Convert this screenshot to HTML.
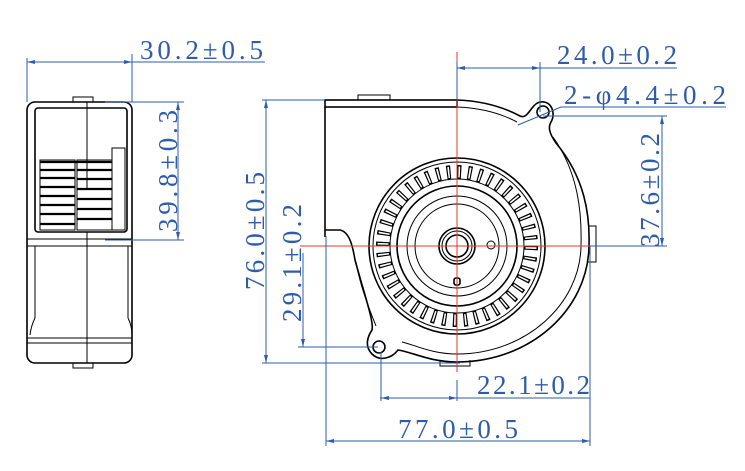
<!DOCTYPE html>
<html><head><meta charset="utf-8"><style>
html,body{margin:0;padding:0;background:#fff;}
svg{display:block;}
.b{stroke:#000;fill:none;stroke-width:1.6;}
.t{stroke:#000;fill:none;stroke-width:1;}
.d{stroke:#2e5caa;fill:none;stroke-width:1;}
.r{stroke:#f03030;fill:none;stroke-width:1;}
text{font-family:"Liberation Serif","Noto Serif CJK SC",serif;font-size:27px;fill:#2e5caa;}
</style></head><body>
<svg width="745" height="471" viewBox="0 0 745 471" xmlns="http://www.w3.org/2000/svg">
<!-- LEFT VIEW -->
<rect class="b" x="27" y="102" width="105" height="261" rx="8"/>
<rect class="b" x="35" y="108" width="92" height="124" rx="3"/>
<path class="t" d="M73 102 V97 H93 V102 M73 363 V368 H93 V363"/>
<path class="t" d="M87 102 V109 M87 108 V190 M87 232 V363"/>
<path class="t" d="M27 239 H132 M27 246 H132 M35 246 V318 M128 246 V318 M35 318 Q31 326 30 335 M128 318 Q132 326 132 335 M27 338 H132 M27 343 H132"/>
<rect class="t" x="112" y="148" width="13" height="82"/>
<rect class="t" x="40" y="160" width="35" height="70"/>
<rect class="t" x="77" y="160" width="35" height="70"/>
<g stroke="#000" stroke-width="2.2">
<line x1="40" y1="162" x2="112" y2="162"/><line x1="40" y1="170" x2="75" y2="170"/><line x1="40" y1="178" x2="75" y2="178"/><line x1="40" y1="187" x2="75" y2="187"/><line x1="40" y1="196" x2="75" y2="196"/><line x1="40" y1="205" x2="75" y2="205"/><line x1="40" y1="214" x2="75" y2="214"/><line x1="40" y1="224" x2="75" y2="224"/>
<line x1="77" y1="170" x2="112" y2="170"/><line x1="77" y1="179" x2="112" y2="179"/><line x1="77" y1="189" x2="112" y2="189"/><line x1="77" y1="199" x2="112" y2="199"/><line x1="77" y1="209" x2="112" y2="209"/><line x1="77" y1="219" x2="112" y2="219"/>
</g>
<!-- left dims -->
<path class="d" d="M27 58 V102 M132 54 V102 M27 62 H265 M105 102 H184 M105 240 H184 M178 102 V240"/>
<path d="M27 62 l8 -2 v4 z M132 62 l-8 -2 v4 z M178 102 l-2 8 h4 z M178 240 l-2 -8 h4 z" fill="#2e5caa"/>
<text x="140" y="59" textLength="123" lengthAdjust="spacing">30.2±0.5</text>
<text transform="translate(177,171) rotate(-90)" text-anchor="middle" textLength="122" lengthAdjust="spacing">39.8±0.3</text>

<!-- MAIN VIEW -->
<path class="t" d="M358 100 V95 H390 V100 M440 360 V366 H470 V360 M588 226 H596 V262 H588"/>
<rect class="b" x="325" y="100" width="132" height="7"/>
<line class="b" x1="325" y1="107" x2="325" y2="237"/>
<path class="b" d="M457 100 C485 101 505 108 520 116 C528 120 531 104 540 102 C552 100 556 114 551 122 C548 127 549 133 556 143 C585 178 590 215 589 246 C588 310 530 362 457 362 C430 362 412 352 398 350 C392 358 380 362 372 354 C364 346 368 336 372 330 C374 322 366 300 355 260 C353 248 350 232 340 230 L325 230"/>
<path class="t" d="M457 107 C483 108 502 114 517 122 M553 137 C578 172 582 212 581 246 C580 305 525 354 457 354 C432 354 415 345 402 342 M376 326 C368 306 360 285 356 262"/>
<circle class="b" cx="543" cy="112" r="6"/>
<circle class="b" cx="379" cy="347" r="6"/>
<!-- impeller -->
<circle class="b" cx="457" cy="246" r="88"/>
<circle class="t" cx="457" cy="246" r="84"/>
<circle cx="457" cy="246" r="74" fill="none" stroke="#000" stroke-width="14" stroke-dasharray="4 6.57"/>
<circle cx="457" cy="246" r="74" fill="none" stroke="#fff" stroke-width="11" stroke-dasharray="1.6 8.97" stroke-dashoffset="-1.2"/>
<circle class="t" cx="457" cy="246" r="67"/>
<circle class="b" cx="457" cy="246" r="60"/>
<circle class="t" cx="457" cy="246" r="50"/>
<circle class="t" cx="457" cy="246" r="42"/>
<circle class="b" cx="457" cy="246" r="18"/>
<circle class="t" cx="457" cy="246" r="15"/>
<circle class="b" cx="457" cy="246" r="11"/>
<circle class="t" cx="491" cy="245" r="4"/>
<rect class="b" x="454" y="278" width="6" height="7" rx="2"/>
<!-- center lines -->
<path class="r" d="M457 52 V372 M300 246 H612"/>
<!-- main dims -->
<path class="d" d="M262 100 H325 M262 363 H460 M266 100 V363 M298 347 H378 M303 253 V347 M457 62 V100 M540 62 V112 M457 68 H677 M543 116 H667 M590 246 H667 M662 116 V246 M518 125 L561 107 H726 M381 352 V401 M457 380 V401 M380 398 H590 M326 236 V446 M590 246 V446 M326 441 H590"/>
<path d="M266 100 l-2 8 h4 z M266 363 l-2 -8 h4 z M303 347 l-2 -8 h4 z M457 68 l8 -2 v4 z M540 68 l-8 -2 v4 z M662 116 l-2 8 h4 z M662 246 l-2 -8 h4 z M381 398 l8 -2 v4 z M457 398 l-8 -2 v4 z M326 441 l8 -2 v4 z M590 441 l-8 -2 v4 z" fill="#2e5caa"/>
<text x="557" y="64" textLength="120" lengthAdjust="spacing">24.0±0.2</text>
<text x="564" y="104" textLength="162" lengthAdjust="spacing">2-φ4.4±0.2</text>
<text transform="translate(659,190) rotate(-90)" text-anchor="middle" textLength="114" lengthAdjust="spacing">37.6±0.2</text>
<text transform="translate(264,231) rotate(-90)" text-anchor="middle" textLength="118" lengthAdjust="spacing">76.0±0.5</text>
<text transform="translate(301,263) rotate(-90)" text-anchor="middle" textLength="118" lengthAdjust="spacing">29.1±0.2</text>
<text x="477" y="394" textLength="113" lengthAdjust="spacing">22.1±0.2</text>
<text x="398" y="438" textLength="120" lengthAdjust="spacing">77.0±0.5</text>
</svg>
</body></html>
